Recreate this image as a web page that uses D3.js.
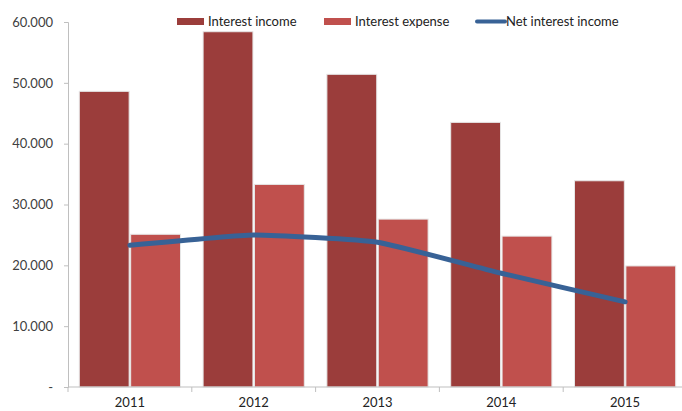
<!DOCTYPE html>
<html>
<head>
<meta charset="utf-8">
<script src="https://cdn.jsdelivr.net/npm/d3@7"></script>
<style>
  html, body { margin: 0; padding: 0; background: #fff; }
  svg { display: block; font-family: Lato, "Open Sans", sans-serif; }
</style>
</head>
<body>
<svg id="chart" width="682" height="411"></svg>
<script>
// Yearly figures (thousands)
const years = ["2011", "2012", "2013", "2014", "2015"];
const interestIncome = [48.6, 58.4, 51.4, 43.5, 33.9];
const interestExpense = [25.1, 33.3, 27.6, 24.8, 19.9];
const netInterestIncome = [23.3, 25.0, 23.8, 18.7, 14.0];
const yTicks = [0, 10, 20, 30, 40, 50, 60];
const seriesNames = ["Interest income", "Interest expense", "Net interest income"];
const colors = { income: "#9b3d3b", expense: "#c0504d", net: "#386296" };

const svg = d3.select("#chart");
const plot = { left: 68, right: 687, top: 22, bottom: 387 };

const x0 = d3.scaleBand().domain(years).range([plot.left, plot.right]).padding(0);
const x1 = d3.scaleBand().domain(["income", "expense"])
  .range([0, x0.bandwidth()]).paddingInner(0.03).paddingOuter(0.22);
const y = d3.scaleLinear().domain([0, 60]).range([plot.bottom, plot.top]);

// Y axis
const yAxis = svg.append("g")
  .attr("transform", `translate(${plot.left},0)`)
  .call(d3.axisLeft(y).tickValues(yTicks).tickSize(4).tickPadding(11)
    .tickFormat(v => v === 0 ? "-" : d3.format(".3f")(v)));
yAxis.select(".domain").attr("stroke", "#bfbfbf");
yAxis.selectAll(".tick line").attr("stroke", "#bfbfbf");
yAxis.selectAll(".tick text").attr("fill", "#404040").style("font-size", "13px")
  .style("font-family", "Lato, sans-serif");

// Bars
const groups = svg.append("g").selectAll("g").data(years).join("g")
  .attr("transform", d => `translate(${x0(d)},0)`);

groups.append("rect")
  .attr("x", x1("income"))
  .attr("y", (d, i) => y(interestIncome[i]))
  .attr("width", x1.bandwidth())
  .attr("height", (d, i) => y(0) - y(interestIncome[i]))
  .attr("fill", colors.income)
  .attr("stroke", "#e6e6e6").attr("stroke-width", 1);

groups.append("rect")
  .attr("x", x1("expense"))
  .attr("y", (d, i) => y(interestExpense[i]))
  .attr("width", x1.bandwidth())
  .attr("height", (d, i) => y(0) - y(interestExpense[i]))
  .attr("fill", colors.expense)
  .attr("stroke", "#e6e6e6").attr("stroke-width", 1);

// X axis
const xAxis = svg.append("g")
  .attr("transform", `translate(0,${plot.bottom})`);
xAxis.append("line")
  .attr("x1", plot.left).attr("x2", plot.right)
  .attr("stroke", "#bfbfbf");
xAxis.selectAll("line.tick").data(years.slice(1)).join("line")
  .attr("class", "tick")
  .attr("x1", d => x0(d)).attr("x2", d => x0(d))
  .attr("y1", 0).attr("y2", 5)
  .attr("stroke", "#bfbfbf");
xAxis.append("line")
  .attr("x1", plot.left).attr("x2", plot.left).attr("y1", 0).attr("y2", 5)
  .attr("stroke", "#bfbfbf");
xAxis.selectAll("text").data(years).join("text")
  .attr("x", d => x0(d) + x0.bandwidth() / 2)
  .attr("y", 20)
  .attr("text-anchor", "middle")
  .attr("fill", "#222")
  .style("font-size", "13px")
  .text(d => d);

// Net interest income line (lightly smoothed)
const line = d3.line()
  .x((d, i) => x0(years[i]) + x0.bandwidth() / 2)
  .y(d => y(d))
  .curve(d3.curveCardinal.tension(0.6));
svg.append("path")
  .datum(netInterestIncome)
  .attr("d", line)
  .attr("fill", "none")
  .attr("stroke", colors.net)
  .attr("stroke-width", 5)
  .attr("stroke-linecap", "round");

// Legend
const legend = svg.append("g").style("font-size", "13px").attr("fill", "#222");
const legendItems = [
  { name: seriesNames[0], x: 177, type: "rect", color: colors.income },
  { name: seriesNames[1], x: 324, type: "rect", color: colors.expense },
  { name: seriesNames[2], x: 475, type: "line", color: colors.net }
];
legendItems.forEach(it => {
  if (it.type === "rect") {
    legend.append("rect").attr("x", it.x).attr("y", 18).attr("width", 27).attr("height", 7)
      .attr("fill", it.color);
  } else {
    legend.append("line").attr("x1", it.x + 2).attr("x2", it.x + 30).attr("y1", 21.5).attr("y2", 21.5)
      .attr("stroke", it.color).attr("stroke-width", 4).attr("stroke-linecap", "round");
  }
  legend.append("text").attr("x", it.x + 31).attr("y", 26).text(it.name);
});
</script>
</body>
</html>
